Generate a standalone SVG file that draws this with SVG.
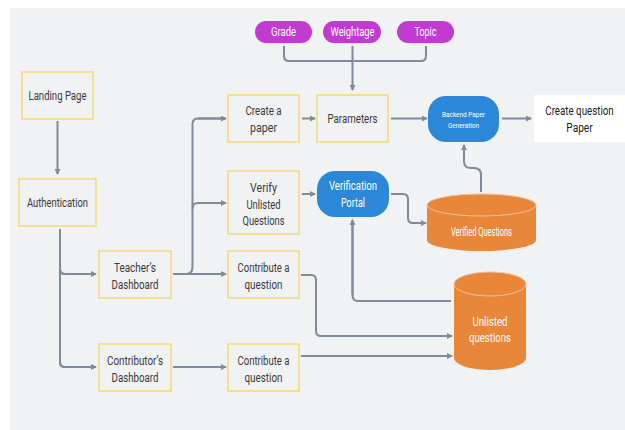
<svg xmlns="http://www.w3.org/2000/svg" width="625" height="430" viewBox="0 0 625 430">
<style>
text{font-family:Roboto,"Liberation Sans",sans-serif;text-anchor:middle;fill:#3a3a3a;font-size:12.5px}
.box{fill:#f1f2f3;stroke:#f5d97a;stroke-width:1.5}
.pill{fill:#c13bd0}
.blue{fill:#2b87d8}
.cyl{fill:#e8863a}
.cap{fill:#e8863a;stroke:#f5c29a;stroke-width:1}
.w{fill:#ffffff}
.sm{font-size:8px}
.big{font-size:13px}
.conn path{fill:none;stroke:#7f8b98;stroke-width:2}
.arr path{marker-end:url(#ah)}
</style>
<defs>
<marker id="ah" viewBox="0 0 6 6" refX="5" refY="3" markerWidth="6" markerHeight="6" markerUnits="userSpaceOnUse" orient="auto">
<path d="M0,0 L6,3 L0,6 z" fill="#7f8b98"/>
</marker>
</defs>
<rect x="0" y="0" width="625" height="430" fill="#ffffff"/>
<rect x="10" y="8" width="615" height="422" fill="#f1f2f3"/>

<g class="conn">
<path d="M284,46 V56 Q284,61 289,61 H421 Q426,61 426,56 V46"/>
<path d="M60,229 V362 Q60,367 65,367 H95"/>
<path d="M60,269 Q60,274 65,274 H95"/>
<path d="M173,274 H225"/>
<path d="M185,274 Q192.5,274 192.5,267 V124 Q192.5,118.5 198,118.5 H225"/>
<path d="M192.5,209 Q192.5,203 198,203 H225"/>
<path d="M391,194 H403 Q408,194 408,199 V218 Q408,223 413,223 H424"/>
<path d="M481,192 V175 Q481,168 474,168 H471 Q464,168 464,161 V146"/>
<path d="M451,301 H358 Q352.5,301 352.5,295 V221"/>
<path d="M301,275 H311 Q316,275 316,280 V331 Q316,336 321,336 H451"/>
<g class="arr">
<path d="M352.5,46 V90"/>
<path d="M57.5,121 V174"/>
<path d="M60,362 Q60,367 65,367 H96"/>
<path d="M60,269 Q60,274 65,274 H96"/>
<path d="M173,274 H226"/>
<path d="M198,118.5 H226"/>
<path d="M198,203 H226"/>
<path d="M302,118.5 H315"/>
<path d="M391,118.5 H427"/>
<path d="M502,118.5 H531"/>
<path d="M302,194 H315"/>
<path d="M413,223 H426"/>
<path d="M464,161 V145"/>
<path d="M352.5,295 V220"/>
<path d="M321,336 H452"/>
<path d="M301,356 H452"/>
<path d="M173,367 H226"/>
</g>
</g>

<g id="grade"><rect class="pill" x="255" y="21" width="57" height="22" rx="11"/><text x="283.5" y="36" style="fill:#fff" font-size="11" textLength="25" lengthAdjust="spacingAndGlyphs">Grade</text></g>
<g id="weightage"><rect class="pill" x="323" y="21" width="58" height="22" rx="11"/><text x="352.5" y="36" style="fill:#fff" font-size="11" textLength="44" lengthAdjust="spacingAndGlyphs">Weightage</text></g>
<g id="topic"><rect class="pill" x="397" y="21" width="57" height="22" rx="11"/><text x="425.5" y="36" style="fill:#fff" font-size="11" textLength="22" lengthAdjust="spacingAndGlyphs">Topic</text></g>

<g id="landing"><rect class="box" x="22" y="72" width="71" height="47"/><text x="57.5" y="100" textLength="58" lengthAdjust="spacingAndGlyphs">Landing Page</text></g>
<g id="auth"><rect class="box" x="19" y="179" width="77" height="47"/><text x="57.5" y="207" textLength="61" lengthAdjust="spacingAndGlyphs">Authentication</text></g>

<g id="create-paper"><rect class="box" x="228" y="95" width="71" height="47"/><text x="263.5" y="115" textLength="36" lengthAdjust="spacingAndGlyphs">Create a</text><text x="263.5" y="132" textLength="27" lengthAdjust="spacingAndGlyphs">paper</text></g>
<g id="verify"><rect class="box" x="228" y="171" width="71" height="63"/><text x="263.5" y="192" textLength="27" lengthAdjust="spacingAndGlyphs">Verify</text><text x="263.5" y="208.5" textLength="34" lengthAdjust="spacingAndGlyphs">Unlisted</text><text x="263.5" y="225" textLength="42" lengthAdjust="spacingAndGlyphs">Questions</text></g>
<g id="parameters"><rect class="box" x="317" y="95" width="71" height="47"/><text x="352.5" y="123" textLength="50" lengthAdjust="spacingAndGlyphs">Parameters</text></g>

<g id="backend"><rect class="blue" x="428" y="96" width="71" height="46" rx="18"/><text class="sm" x="463.5" y="117" style="fill:#fff" textLength="43" lengthAdjust="spacingAndGlyphs">Backend Paper</text><text class="sm" x="463.5" y="127.5" style="fill:#fff" textLength="31" lengthAdjust="spacingAndGlyphs">Generation</text></g>
<g id="create-question-paper"><rect class="w" x="534" y="95" width="91" height="47"/><text class="big" transform="translate(579.5,114.5) scale(0.75,1)" x="0" y="0" style="fill:#222">Create question</text><text class="big" transform="translate(579.5,131.5) scale(0.78,1)" x="0" y="0" style="fill:#222">Paper</text></g>

<g id="verification-portal"><rect class="blue" x="317" y="171" width="72" height="46" rx="18"/><text x="353" y="190" style="fill:#fff" textLength="48" lengthAdjust="spacingAndGlyphs">Verification</text><text x="353" y="207" style="fill:#fff" textLength="24" lengthAdjust="spacingAndGlyphs">Portal</text></g>

<g id="verified-questions"><path class="cyl" d="M427,205 V240 A54.5,11 0 0 0 536,240 V205 Z"/><ellipse class="cap" cx="481.5" cy="205" rx="54.5" ry="11"/><text x="481.5" y="236" style="fill:#fff" font-size="9" textLength="61" lengthAdjust="spacingAndGlyphs">Verified Questions</text></g>

<g id="unlisted-questions"><path class="cyl" d="M454,284 V358 A36,12 0 0 0 526,358 V284 Z"/><ellipse class="cap" cx="490" cy="284" rx="36" ry="12"/><text x="490" y="326" style="fill:#fff" textLength="35" lengthAdjust="spacingAndGlyphs">Unlisted</text><text x="490" y="341.5" style="fill:#fff" textLength="42" lengthAdjust="spacingAndGlyphs">questions</text></g>

<g id="teacher"><rect class="box" x="99" y="251" width="72" height="47"/><text x="135" y="272" textLength="42" lengthAdjust="spacingAndGlyphs">Teacher’s</text><text x="135" y="289" textLength="47" lengthAdjust="spacingAndGlyphs">Dashboard</text></g>
<g id="contribute-1"><rect class="box" x="228" y="251" width="71" height="47"/><text x="263.5" y="272" textLength="52" lengthAdjust="spacingAndGlyphs">Contribute a</text><text x="263.5" y="289" textLength="38" lengthAdjust="spacingAndGlyphs">question</text></g>
<g id="contributor"><rect class="box" x="99" y="344" width="72" height="47"/><text x="135" y="365" textLength="56" lengthAdjust="spacingAndGlyphs">Contributor’s</text><text x="135" y="382" textLength="47" lengthAdjust="spacingAndGlyphs">Dashboard</text></g>
<g id="contribute-2"><rect class="box" x="228" y="344" width="71" height="47"/><text x="263.5" y="365" textLength="52" lengthAdjust="spacingAndGlyphs">Contribute a</text><text x="263.5" y="382" textLength="38" lengthAdjust="spacingAndGlyphs">question</text></g>
</svg>
